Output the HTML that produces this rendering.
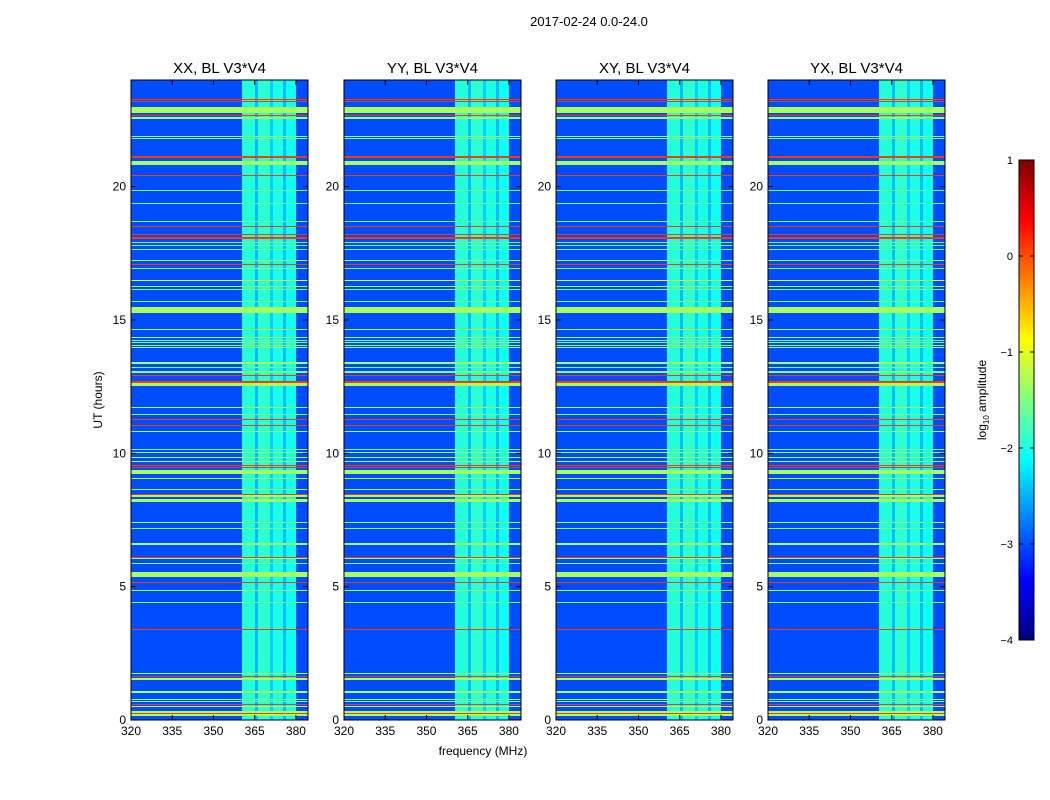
<!DOCTYPE html>
<html><head><meta charset="utf-8"><style>
body{margin:0;background:#fff;}
svg{display:block;font-family:"Liberation Sans","DejaVu Sans",sans-serif;}
</style></head><body>
<svg id="fig" width="1050" height="800" viewBox="0 0 1050 800">
<rect width="1050" height="800" fill="#fff"/>
<text x="589" y="26" font-size="13" text-anchor="middle">2017-02-24 0.0-24.0</text>
<text x="483" y="755" font-size="12" text-anchor="middle">frequency (MHz)</text>
<text transform="translate(102,400) rotate(-90)" font-size="12" text-anchor="middle">UT (hours)</text>
<g id="panels"></g>
<g id="cbar"></g>
<text transform="translate(986,400) rotate(-90)" font-size="12" text-anchor="middle">log<tspan font-size="8" dy="3">10</tspan><tspan dy="-3"> amplitude</tspan></text>
</svg>
<script>
const panelTitles=["XX, BL V3*V4","YY, BL V3*V4","XY, BL V3*V4","YX, BL V3*V4"];
const xTicks=[320,335,350,365,380];
const yTicks=[0,5,10,15,20];
const cbTicks=[-4,-3,-2,-1,0,1];
const backgroundLevel=-3.0;
const bandStart=[360.5,365.1,366.2,370.5,371.6,375.3,376.4];
const bandEnd=[365.1,366.2,370.5,371.6,375.3,376.4,380.2];
const bandLevel=[-1.95,-2.45,-1.9,-2.35,-2.0,-2.45,-2.05];
const rowStart=[23.25,23.18,22.75,22.64,22.55,21.85,21.77,21.07,20.8,20.41,19.82,19.34,18.67,18.47,18.18,18.02,17.87,17.77,17.64,17.2,17.07,16.91,16.47,16.23,16.11,15.69,15.27,14.61,14.32,14.2,14.14,14.04,13.94,13.34,13.21,13.03,12.89,12.65,12.58,12.51,11.71,11.43,11.24,11.02,10.8,10.11,10.01,9.81,9.66,9.53,9.46,9.21,9.04,8.62,8.43,8.38,8.16,7.39,7.15,6.58,6.09,6.03,5.86,5.37,5.13,4.84,4.37,3.38,1.72,1.62,1.49,1.0,0.74,0.66,0.57,0.48,0.15,0.22];
const rowEnd=[23.3,23.22,23.0,22.68,22.6,21.89,21.81,21.15,20.95,20.45,19.86,19.38,18.71,18.51,18.22,18.1,17.91,17.81,17.68,17.24,17.11,16.95,16.51,16.27,16.15,15.73,15.49,14.65,14.38,14.24,14.18,14.08,13.98,13.43,13.25,13.07,12.93,12.71,12.62,12.55,11.75,11.47,11.28,11.06,10.84,10.15,10.05,9.85,9.7,9.57,9.5,9.39,9.08,8.66,8.47,8.42,8.29,7.43,7.19,6.62,6.13,6.07,5.9,5.55,5.17,4.88,4.41,3.42,1.76,1.66,1.57,1.08,0.78,0.7,0.61,0.52,0.35,0.26];
const rowLevel=[0.1,0.1,-1.3,0.1,-1.3,-1.3,-1.6,0.1,-1.3,0.1,-1.6,-1.6,-1.5,0.1,0.1,0.1,-1.6,-1.6,-1.6,-1.3,0.1,-1.5,-1.0,-1.3,-1.5,-1.5,-1.3,-1.3,-1.3,-1.5,-1.5,-1.5,-1.3,-1.3,-1.5,-1.5,0.1,0.1,-1.3,-1.3,-1.3,-1.5,0.1,0.1,-1.3,-1.5,-1.3,-1.3,-1.3,0.1,0.1,-1.3,-1.3,-1.3,0.1,-1.3,-1.3,-1.3,-1.5,-1.3,0.1,-1.3,-1.5,-1.3,0.1,-1.3,-1.5,0.1,-1.3,0.1,-1.3,-1.3,-1.5,-1.5,0.1,-1.3,-1.3,0.1];

const NS="http://www.w3.org/2000/svg";
function el(tag,attrs,parent){const e=document.createElementNS(NS,tag);for(const k in attrs)e.setAttribute(k,attrs[k]);parent.appendChild(e);return e;}
function cl(v){return Math.max(0,Math.min(1,v));}
function jet(v){const t=(v+4)/5;const r=cl(1.5-Math.abs(4*t-3)),g=cl(1.5-Math.abs(4*t-2)),b=cl(1.5-Math.abs(4*t-1));return `rgb(${Math.round(r*255)},${Math.round(g*255)},${Math.round(b*255)})`;}
const panelX=[131,344,556,768],pw=177,plotTop=80,plotBot=720;
const fmin=320,fmax=384.4;
const yScale=h=>plotBot-(h/24)*(plotBot-plotTop);
const root=document.getElementById('panels');
panelTitles.forEach((title,i)=>{
  const x0=panelX[i];
  const xScale=f=>x0+(f-fmin)/(fmax-fmin)*pw;
  const g=el('g',{},root);
  
  
  const hm=el('g',{'shape-rendering':'crispEdges'},g);
  
  
  const bg=el('rect',{x:x0,y:plotTop,width:pw,height:plotBot-plotTop,fill:jet(backgroundLevel)},hm);
  
  
  bandStart.forEach((s,j)=>{
    const xa=Math.round(xScale(s)),xb=Math.round(xScale(bandEnd[j]));
    const r=el('rect',{x:xa,y:plotTop,width:xb-xa,height:plotBot-plotTop,fill:jet(bandLevel[j])},hm);
    
    
  });
  rowStart.forEach((s,j)=>{
    const y1=Math.round(yScale(rowEnd[j])),y2=Math.round(yScale(s));
    const r=el('rect',{x:x0,y:y1,width:pw,height:Math.max(1,y2-y1),fill:jet(rowLevel[j])},hm);
    
    
  });
  const fr=el('rect',{x:x0,y:plotTop,width:pw,height:plotBot-plotTop,fill:'none',stroke:'#000','stroke-width':1},g);
  
  
  const t=el('text',{x:x0+pw/2,y:73,'font-size':15,'text-anchor':'middle'},g);
  t.textContent=title;
  
  
  xTicks.forEach(v=>{
    const x=xScale(v);
    el('line',{x1:x,x2:x,y1:plotBot,y2:plotBot-5,stroke:'#000'},g);
    el('line',{x1:x,x2:x,y1:plotTop,y2:plotTop+5,stroke:'#000'},g);
    const l=el('text',{x:x,y:plotBot+15,'font-size':12,'text-anchor':'middle'},g);
    l.textContent=v;
    
    
  });
  yTicks.forEach(v=>{
    const y=yScale(v);
    el('line',{x1:x0,x2:x0+5,y1:y,y2:y,stroke:'#000'},g);
    el('line',{x1:x0+pw,x2:x0+pw-5,y1:y,y2:y,stroke:'#000'},g);
    const l=el('text',{x:x0-5,y:y+4,'font-size':12,'text-anchor':'end'},g);
    l.textContent=v;
    
    
  });
});
const cb=document.getElementById('cbar');
const cbx=1019,cbw=15,cbt=160,cbb=640,vmin=-4,vmax=1;
const cbY=v=>cbb-(v-vmin)/(vmax-vmin)*(cbb-cbt);
for(let k=0;k<240;k++){
  const v=vmin+(k+0.5)/240*(vmax-vmin);
  el('rect',{x:cbx,y:cbb-(k+1)*2,width:cbw,height:2.2,fill:jet(v),'shape-rendering':'crispEdges'},cb);
}
el('rect',{x:cbx,y:cbt,width:cbw,height:cbb-cbt,fill:'none',stroke:'#000'},cb);
cbTicks.forEach(v=>{
  const y=cbY(v);
  el('line',{x1:cbx,x2:cbx+4,y1:y,y2:y,stroke:'#000'},cb);
  el('line',{x1:cbx+cbw,x2:cbx+cbw-4,y1:y,y2:y,stroke:'#000'},cb);
  const l=el('text',{x:1013,y:y+4,'font-size':11,'text-anchor':'end'},cb);
  l.textContent=(v<0?'\u2212'+(-v):String(v));
  
  
});
</script>
</body></html>
